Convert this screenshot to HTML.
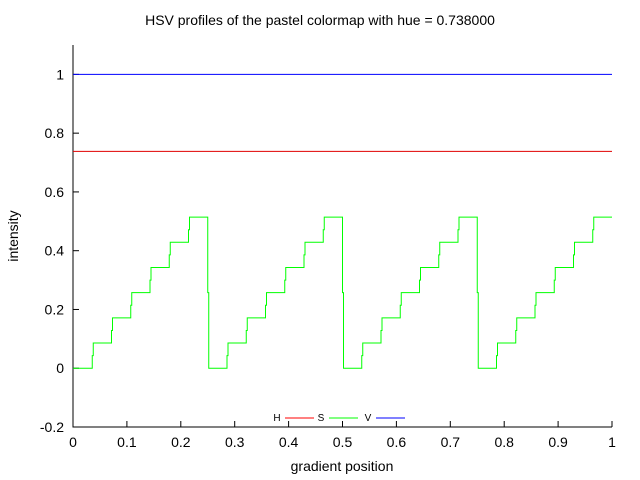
<!DOCTYPE html>
<html><head><meta charset="utf-8"><style>
body{margin:0;background:#fff}
svg{display:block;font-family:"Liberation Sans",sans-serif}
</style></head><body>
<svg id="c" width="640" height="480"></svg>
<script>
const xTicks=[0,0.1,0.2,0.3,0.4,0.5,0.6,0.7,0.8,0.9,1];
const xTickLabels=["0","0.1","0.2","0.3","0.4","0.5","0.6","0.7","0.8","0.9","1"];
const yTicks=[-0.2,0,0.2,0.4,0.6,0.8,1];
const yTickLabels=["-0.2","0","0.2","0.4","0.6","0.8","1"];
const hValue=0.738;
const vValue=1;
const sSteps=[0,0.0857,0.1714,0.2571,0.3429,0.4286,0.5143,0,0.0857,0.1714,0.2571,0.3429,0.4286,0.5143,0,0.0857,0.1714,0.2571,0.3429,0.4286,0.5143,0,0.0857,0.1714,0.2571,0.3429,0.4286,0.5143];
const L=73,R=612,T=45,B=427,ymin=-0.2,ymax=1.1;
const sx=v=>L+(v-0)/(1-0)*(R-L);
const sy=v=>B-(v-ymin)/(ymax-ymin)*(B-T);
const svg=document.getElementById('c');
const NS='http://www.w3.org/2000/svg';
function mk(tag,attrs,parent){const e=document.createElementNS(NS,tag);for(const k in attrs)e.setAttribute(k,attrs[k]);(parent||svg).appendChild(e);return e;}
let t=mk('text',{x:320,y:25,'text-anchor':'middle','font-size':14,fill:'#000'});t.textContent='HSV profiles of the pastel colormap with hue = 0.738000';


let ax=mk('path',{d:`M${L} ${T}V${B}H${R}`,stroke:'#000',fill:'none','stroke-width':1});


xTicks.forEach((v,i)=>{const x=sx(v);mk('line',{x1:x,x2:x,y1:B,y2:B-6,stroke:'#000'});
 const tx=mk('text',{x:x,y:B+20,'text-anchor':'middle','font-size':14});tx.textContent=xTickLabels[i];
 
 });
yTicks.forEach((v,i)=>{const y=sy(v);mk('line',{x1:L,x2:L+6,y1:y,y2:y,stroke:'#000'});
 const tx=mk('text',{x:L-9,y:y+5,'text-anchor':'end','font-size':14});tx.textContent=yTickLabels[i];
 
 });
let xl=mk('text',{x:342,y:471,'text-anchor':'middle','font-size':14});xl.textContent='gradient position';


let yl=mk('text',{x:0,y:0,'text-anchor':'middle','font-size':14,transform:'translate(18,236) rotate(-90)'});yl.textContent='intensity';


// H line
let h=mk('line',{x1:sx(0),x2:sx(1),y1:sy(hValue),y2:sy(hValue),stroke:'#e00000'});


let vl=mk('line',{x1:sx(0),x2:sx(1),y1:sy(vValue),y2:sy(vValue),stroke:'#0000ff'});


// S staircase
let d='',n=sSteps.length;
sSteps.forEach((v,i)=>{const x0=sx(i/n),x1=sx((i+1)/n);
 if(i===0)d+=`M${x0} ${sy(v)}`;else{const p=sSteps[i-1];d+=`V${sy((p+v)/2)}H${x0+1}V${sy(v)}`;}
 d+=`H${x1}`;});
let s=mk('path',{d:d,stroke:'#00ff00',fill:'none','stroke-width':1});


// legend
const leg=[['H','#ff0000',277],['S','#00ff00',321],['V','#0000ff',368]];
leg.forEach(([n,c,x])=>{const g=mk('g',{});
 
 
 const tx=mk('text',{x:x,y:421,'text-anchor':'middle','font-size':10},g);tx.textContent=n;
 mk('line',{x1:x+8,x2:x+37,y1:418,y2:418,stroke:c},g);});
</script>
</body></html>
